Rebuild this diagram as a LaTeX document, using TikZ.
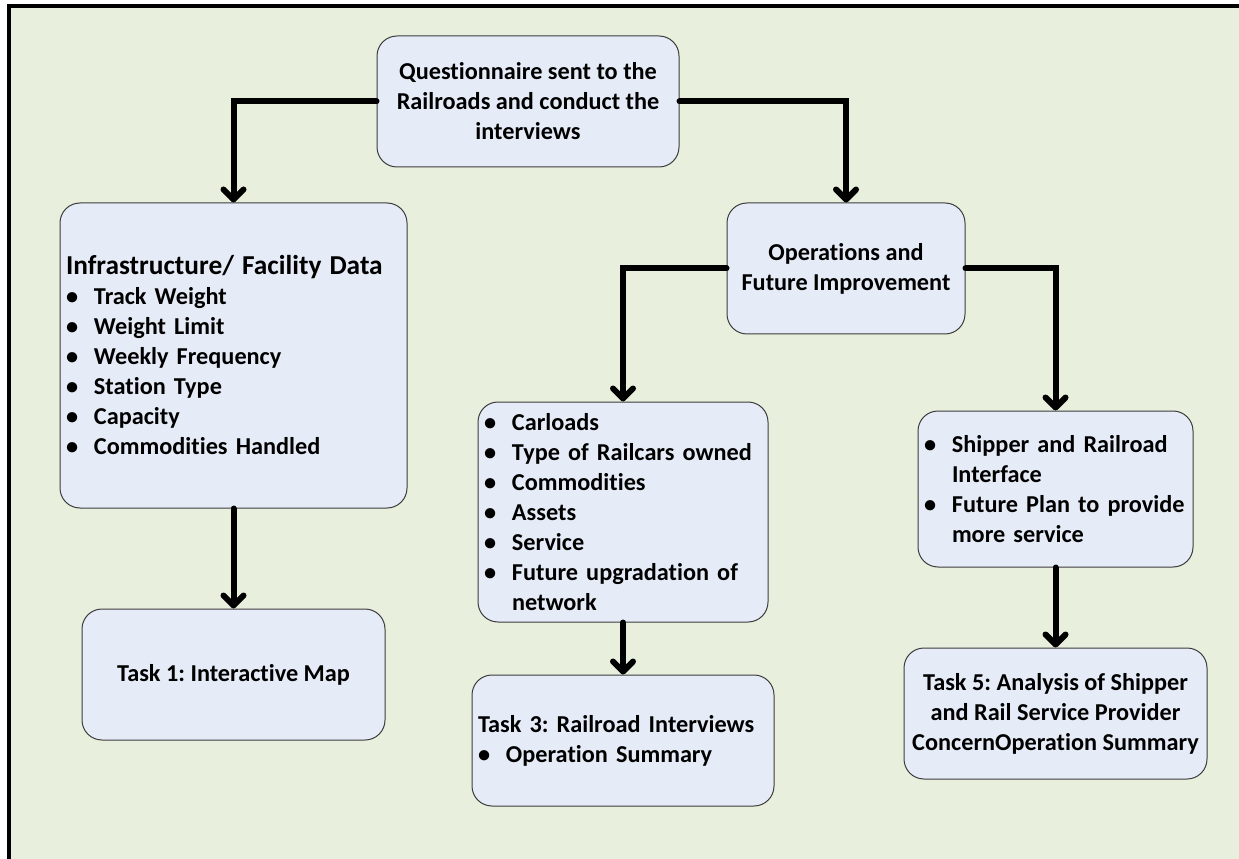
\documentclass[tikz,border=0pt]{standalone}
\usepackage{fontspec}
\setmainfont{Carlito}[Ligatures=NoCommon]
\usetikzlibrary{arrows.meta}

\definecolor{bggreen}{RGB}{233,239,221}
\definecolor{boxblue}{RGB}{230,236,247}
\definecolor{boxline}{RGB}{60,60,60}
\newcommand{\blt}{\makebox[21pt][l]{\textbullet}}
\newcommand{\bind}{\hspace*{21pt}}
\frenchspacing

\begin{document}
\begin{tikzpicture}[x=0.75pt,y=0.75pt,yscale=-1,xscale=1,
  every node/.style={font=\bfseries\fontsize{18.2}{22.5}\selectfont},
  stepbox/.style={draw=boxline, fill=boxblue, rounded corners=15pt, line width=0.75pt, inner xsep=4.5pt, inner ysep=0pt},
  listbox/.style={stepbox, align=left},
  midbox/.style={stepbox, align=center},
  link/.style={line width=4.5pt, line cap=round, line join=miter, -{Straight Barb[length=7.5pt,width=15pt,round]}}]
		\useasboundingbox (0,0) rectangle (1239,859);
		\clip (0,0) rectangle (1239,859);
		
		%Shape: Frame
		\draw [line width=3pt, fill=bggreen] (9,6.5) rectangle (1260,880);
		
		%Shape: Rounded Rectangle (top)
		\node [midbox, minimum width=226.5pt, minimum height=98.25pt] (quest) at (528,101.5) {Questionnaire sent to the\\Railroads and conduct the\\interviews};
		%Shape: Rounded Rectangle (left column)
		\node [listbox, text width=251.25pt, minimum height=228.75pt] (infra) at (233.5,355.5) {{\fontsize{20.5}{23}\selectfont Infrastructure/ Facility Data}\\
			\blt Track Weight\\
			\blt Weight Limit\\
			\blt Weekly Frequency\\
			\blt Station Type\\
			\blt Capacity\\
			\blt Commodities Handled};
		\node [midbox, minimum width=227.25pt, minimum height=98.25pt] (task1) at (233.5,674.5) {Task 1: Interactive Map};
		%Shape: Rounded Rectangle (operations)
		\node [midbox, minimum width=178.5pt, minimum height=98.25pt] (ops) at (846,268.5) {Operations and\\Future Improvement};
		%Shape: Rounded Rectangle (middle column)
		\node [listbox, text width=208.5pt, minimum height=165pt] (carl) at (623,512) {\blt Carloads\\
			\blt Type of Railcars owned\\
			\blt Commodities\\
			\blt Assets\\
			\blt Service\\
			\blt Future upgradation of\\
			\bind network};
		\node [listbox, text width=217.5pt, minimum height=98.25pt] (task3) at (623,740.5) {Task 3: Railroad Interviews\\
			\blt Operation Summary};
		%Shape: Rounded Rectangle (right column)
		\node [listbox, text width=197.25pt, minimum height=117pt] (ship) at (1055.5,489) {\blt Shipper and Railroad\\
			\bind Interface\\
			\blt Future Plan to provide\\
			\bind more service};
		\node [midbox, minimum width=227.25pt, minimum height=98.25pt] (task5) at (1055.5,713.5) {Task 5: Analysis of Shipper\\and Rail Service Provider\\ConcernOperation Summary};
		
		%Straight Lines
		\draw [link] (quest.west) -| (infra.north);
		\draw [link] (quest.east) -| (ops.north);
		\draw [link] (ops.west) -| (carl.north);
		\draw [link] (ops.east) -| (ship.north);
		\draw [link] (infra.south) -- (task1.north);
		\draw [link] (carl.south) -- (task3.north);
		\draw [link] (ship.south) -- (task5.north);
\end{tikzpicture}
\end{document}
